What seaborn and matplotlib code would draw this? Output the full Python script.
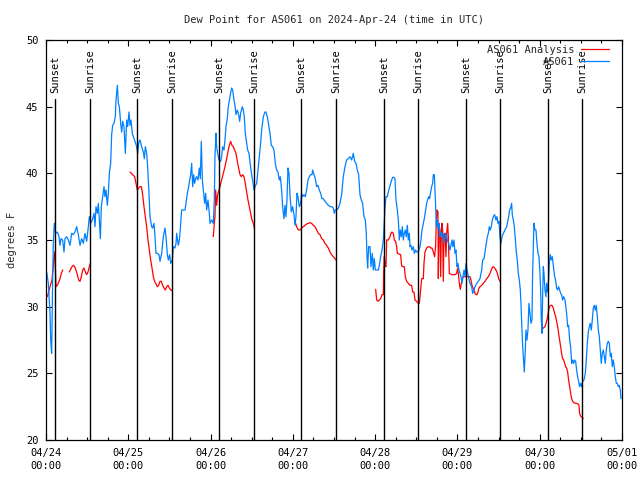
import numpy as np
import pandas as pd
import matplotlib
matplotlib.use("Agg")
import matplotlib.pyplot as plt
import matplotlib.transforms as mtransforms
from matplotlib.lines import Line2D
import seaborn as sns

# time axis: hours since 2024-04-24 00:00 UTC
obs_hours = [
    0.19, 0.68, 1.17, 1.36, 1.65, 1.94, 2.14, 2.43, 2.82, 3.31,
    3.79, 4.08, 4.38, 4.86, 5.25, 5.54, 6.03, 6.51, 7.0, 7.49,
    7.97, 8.46, 8.94, 9.43, 9.92, 10.40, 10.89, 11.37, 11.86, 12.35,
    12.64, 13.03, 13.51, 14.0, 14.29, 14.58, 14.97, 15.26, 15.56, 15.85,
    16.14, 16.53, 16.92, 17.21, 17.5, 17.89, 18.18, 18.47, 18.86, 19.15,
    19.44, 19.83, 20.22, 20.42, 20.81, 21.1, 21.39, 21.78, 22.07, 22.36,
    22.75, 23.14, 23.53, 23.82, 24.21, 24.5, 24.79, 25.18, 25.47, 25.96,
    26.44, 26.74, 27.12, 27.42, 27.9, 28.39, 28.68, 28.97, 29.36, 29.65,
    30.04, 30.33, 30.82, 31.11, 31.5, 31.79, 32.08, 32.47, 32.96, 33.25,
    33.74, 34.22, 34.71, 35.0, 35.39, 35.68, 36.07, 36.36, 36.85, 37.14,
    37.62, 37.92, 38.11, 38.6, 38.89, 39.08, 39.57, 40.05, 40.54, 40.83,
    41.22, 41.61, 41.9, 42.19, 42.49, 42.78, 43.07, 43.36, 43.65, 43.94,
    44.33, 44.72, 45.01, 45.3, 45.6, 45.89, 46.28, 46.57, 46.86, 47.25,
    47.64,
    47.83, 48.31, 48.8, 49.09, 49.28, 49.58, 49.77, 50.06, 50.45, 50.94,
    51.23, 51.52, 51.91, 52.2, 52.49, 52.88, 53.17, 53.66, 54.15, 54.44,
    54.83, 55.12, 55.41, 55.8, 56.19, 56.48, 56.77, 57.26, 57.55, 57.84,
    58.13, 58.52, 58.81, 59.2, 59.49, 59.78, 60.08, 60.27, 60.66, 60.95,
    61.44, 61.73, 62.12, 62.51, 62.9, 63.38, 63.87, 64.16, 64.55, 64.94,
    65.33, 65.72, 66.1, 66.49, 66.88, 67.27, 67.66, 68.05, 68.34, 68.73,
    69.02, 69.41, 69.7, 69.99, 70.28, 70.58, 70.87, 71.16, 71.55, 71.94,
    72.33, 72.62, 72.91, 73.2, 73.49, 73.88, 74.27, 74.56, 74.85, 75.24,
    75.63, 76.02, 76.41, 76.8, 77.19, 77.58, 77.77, 78.16, 78.55, 78.94,
    79.33, 79.71, 80.1, 80.49, 80.88, 81.37, 81.85, 82.34, 82.83, 83.31,
    83.8, 84.09, 84.38, 84.77, 85.26, 85.74, 86.23, 86.71, 87.2, 87.69,
    88.17, 88.66, 89.15, 89.63, 90.02, 90.41, 90.8, 91.19, 91.58, 91.96,
    92.35, 92.74, 93.13, 93.42, 93.62, 93.81, 94.1,
    94.5, 94.79, 95.18, 95.47, 95.76, 96.05, 96.44, 96.93, 97.22, 97.61,
    98.0, 98.39, 98.58, 98.87, 99.16, 99.55, 99.84, 100.14, 100.52, 100.82,
    101.11, 101.5, 101.79, 102.08, 102.47, 102.76, 103.05, 103.34, 103.64, 103.93,
    104.22, 104.51, 104.8, 105.09, 105.39, 105.68, 105.97, 106.16, 106.45, 106.75,
    107.14, 107.43, 107.82, 108.11, 108.59, 109.08, 109.37, 109.66, 110.05, 110.34,
    110.73, 111.02, 111.32, 111.61, 111.9, 112.19, 112.48, 112.77, 112.97, 113.26,
    113.45, 113.65, 113.84, 114.14, 114.43, 114.72, 114.91, 115.2, 115.5, 115.79,
    116.08, 116.37, 116.66, 117.05, 117.44, 117.83, 118.12, 118.41, 118.7, 119.0,
    119.29, 119.58, 119.87, 120.16, 120.45, 120.75, 121.04, 121.33, 121.62, 121.91,
    122.2, 122.5, 122.79, 123.18, 123.66, 124.15, 124.44, 124.83, 125.12, 125.61,
    126.09, 126.58, 127.07, 127.36, 127.75, 128.04, 128.33, 128.72, 129.01, 129.3,
    129.59, 129.89, 130.18, 130.47, 130.86, 131.25, 131.54, 131.83, 132.12, 132.41,
    132.71, 133.0, 133.39, 133.87, 134.36, 134.84, 135.23,
    135.52, 135.81, 136.0, 136.3, 136.59, 136.88, 137.17, 137.46, 137.75, 138.05,
    138.34, 138.53, 138.82, 139.02, 139.31, 139.5, 139.8, 139.99, 140.28, 140.57,
    140.86, 141.16, 141.45, 141.74, 141.93, 142.13, 142.32, 142.61, 142.91, 143.2,
    143.49, 143.78, 144.07, 144.27, 144.46, 144.66, 144.85, 145.05, 145.24, 145.53,
    145.82, 146.02, 146.31, 146.6, 146.8, 147.09, 147.38, 147.67, 147.96, 148.35,
    148.64, 148.93, 149.23, 149.52, 149.81, 150.1, 150.39, 150.68, 150.98, 151.37,
    151.85, 152.14, 152.43, 152.73, 153.02, 153.31, 153.6, 153.89, 154.18, 154.48,
    154.77, 155.06, 155.35, 155.64, 155.93, 156.23, 156.52, 156.91, 157.3, 157.59,
    157.88, 158.17, 158.46, 158.75, 159.05, 159.34, 159.63, 159.92, 160.21, 160.5,
    160.8, 161.09, 161.38, 161.67, 161.96, 162.25, 162.55, 162.84, 163.13, 163.42,
    163.71, 164.0, 164.3, 164.59, 164.88, 165.17, 165.46, 165.75, 166.05, 166.34,
    166.63, 166.92, 167.21, 167.5, 167.7,
]
obs_dewpt = [
    32.6, 31.75, 29.5, 27.5, 26.5, 32.0, 34.75, 36.25, 35.5, 35.6,
    35.25, 34.6, 35.1, 35.0, 34.1, 35.1, 35.25, 35.0, 34.6, 35.5,
    35.4, 35.6, 36.0, 35.4, 34.6, 35.1, 34.75, 35.5, 34.9, 36.0,
    36.75, 36.25, 36.5, 37.0, 36.0, 37.5, 37.0, 37.75, 36.5, 35.1,
    37.5, 38.25, 39.0, 38.25, 38.75, 37.6, 38.5, 40.0, 40.75, 42.9,
    43.6, 43.75, 44.25, 45.5, 46.6, 45.25, 45.0, 43.75, 43.1, 43.9,
    43.5, 41.5, 44.0, 43.5, 44.6, 43.6, 44.0, 43.0, 42.75, 42.4,
    42.0, 41.5, 42.4, 42.5, 42.0, 41.6, 41.1, 42.0, 41.5, 40.5,
    38.5, 36.75, 36.0, 35.9, 36.25, 35.25, 34.0, 34.0, 33.9, 33.4,
    34.0, 35.25, 35.9, 35.25, 33.9, 33.5, 33.9, 33.25, 33.5, 34.5,
    34.4, 34.75, 35.5, 34.6, 35.0, 35.5, 37.25, 37.25, 37.25, 37.75,
    38.5, 39.0, 39.5, 39.9, 40.75, 39.0, 39.9, 39.25, 39.6, 39.75,
    39.5, 40.4, 39.6, 42.4, 39.5, 38.75, 37.75, 38.5, 37.25, 38.0,
    37.0,
    36.25, 36.5, 36.25, 38.0, 41.25, 43.0, 42.0, 41.5, 41.0, 40.9,
    41.25, 42.0, 41.75, 42.5, 43.5, 44.1, 45.0, 45.75, 46.4, 46.25,
    45.5, 45.1, 44.4, 44.75, 44.4, 43.9, 44.5, 45.0, 44.75, 44.25,
    43.0, 42.25, 41.75, 41.5, 40.9, 40.25, 39.75, 39.5, 38.75, 39.0,
    39.25, 40.0, 41.0, 42.0, 43.25, 44.25, 44.6, 44.6, 44.25, 43.6,
    43.0, 42.1, 42.0, 41.75, 40.75, 40.25, 40.1, 39.5, 39.75, 38.75,
    37.5, 36.6, 37.6, 36.75, 38.0, 40.4, 40.0, 38.4, 37.1, 37.5,
    36.9, 36.1, 36.75, 38.5, 38.25, 37.5, 37.75, 38.5, 38.25, 38.4,
    38.25, 38.75, 39.5, 39.75, 39.9, 39.9, 40.25, 39.9, 39.6, 39.0,
    39.1, 38.75, 38.5, 38.1, 38.1, 37.9, 37.75, 37.6, 37.5, 37.5,
    37.4, 37.0, 37.25, 37.25, 37.4, 37.75, 38.4, 39.75, 40.5, 41.0,
    41.1, 41.25, 41.0, 41.5, 40.9, 40.75, 40.25, 39.9, 38.4, 38.0,
    37.75, 36.75, 36.5, 35.5, 33.75, 32.9, 34.5,
    34.5, 33.0, 34.0, 32.75, 33.6, 32.75, 32.75, 32.75, 33.1, 33.75,
    34.25, 35.0, 36.0, 37.4, 38.25, 38.25, 38.6, 38.9, 39.25, 39.5,
    39.7, 39.7, 39.6, 38.0, 37.25, 36.5, 35.0, 35.75, 35.25, 36.0,
    35.0, 35.5, 35.75, 35.25, 36.1, 35.0, 35.5, 34.5, 34.6, 34.25,
    34.5, 34.0, 34.25, 34.1, 34.1, 34.5, 35.0, 35.75, 36.25, 36.6,
    37.25, 37.75, 38.0, 38.25, 38.1, 38.6, 39.0, 39.25, 39.9, 39.9,
    38.75, 37.5, 36.0, 36.5, 35.75, 36.25, 35.25, 35.6, 35.25, 35.5,
    34.75, 35.25, 35.5, 35.0, 34.75, 34.25, 34.6, 35.0, 34.5, 35.0,
    34.0, 34.25, 33.0, 33.25, 32.75, 32.5, 32.25, 31.75, 32.25, 32.75,
    32.25, 33.25, 32.75, 32.25, 31.75, 31.5, 31.0, 31.25, 31.5, 31.75,
    31.9, 32.1, 32.75, 33.5, 33.6, 34.1, 34.6, 35.25, 35.5, 36.0,
    35.75, 36.0, 36.5, 36.75, 36.9, 36.5, 36.75, 36.25, 36.4, 35.25,
    34.75, 35.25, 35.5, 35.75, 36.0, 36.6, 37.25,
    37.4, 37.75, 36.9, 36.5, 36.0, 35.0, 34.1, 33.5, 32.5, 32.0,
    31.25, 30.25, 28.25, 27.1, 25.9, 25.1, 26.75, 28.25, 27.5, 28.25,
    30.25, 29.5, 28.75, 29.0, 32.5, 34.5, 36.25, 35.75, 35.75, 34.75,
    34.0, 33.75, 32.5, 31.25, 29.1, 28.0, 30.75, 33.0, 32.5, 31.25,
    30.75, 31.75, 31.1, 32.1, 33.25, 33.9, 33.5, 33.75, 33.1, 32.25,
    32.0, 31.4, 31.25, 31.5, 31.25, 31.0, 30.9, 30.5, 30.75, 30.5,
    29.5, 28.5, 28.6, 27.5, 27.0, 25.75, 26.0, 25.75, 26.0, 25.9,
    25.25, 24.75, 24.4, 24.0, 24.25, 24.0, 24.4, 24.5, 25.0, 26.0,
    27.25, 28.1, 28.5, 28.75, 28.25, 29.0, 29.9, 30.1, 29.75, 30.1,
    29.25, 28.25, 27.75, 26.75, 25.75, 26.5, 26.75, 26.25, 25.75, 26.75,
    27.25, 27.4, 27.25, 26.25, 26.5, 25.5, 26.0, 25.5, 24.75, 24.25,
    24.25, 24.0, 24.1, 23.75, 23.1,
]

# analysis series, None marks a gap in the record
ana_hours = [
    0.39, 0.68, 1.17, 1.46, 1.75, 1.94, 2.14, 2.33, 2.53, 2.72,
    2.92, 3.31, 3.79, 4.08, 4.47, 4.86, None,
    6.81, 7.19, 7.58, 7.97, 8.36, 8.75, 9.14, 9.53, 9.92, 10.31,
    10.69, 11.08, 11.47, 11.86, 12.25, 12.64, 12.93, None,
    24.5, 25.28, 25.86, 26.25, 26.64, 27.03, 27.42, 27.81, 28.19, 28.58,
    28.97, 29.36, 29.75, 30.14, 30.53, 30.92, 31.31, 31.69, 32.08, 32.47,
    32.86, 33.25, 33.64, 34.03, 34.42, 34.81, 35.19, 35.58, 35.97, 36.36,
    36.75, None,
    48.8, 49.09, 49.28, 49.48, 49.77, 50.06, 50.45, 50.74, 51.23, 51.72,
    52.2, 52.69, 53.17, 53.47, 53.85, 54.24, 54.63, 55.02, 55.41, 55.8,
    56.19, 56.58, 56.97, 57.35, 57.74, 58.13, 58.52, 58.91, 59.3, 59.69,
    60.08, 60.47, 60.76, None,
    72.62, 73.1, 73.59, 74.08, 74.56, 75.05, 75.53, 76.02, 76.51, 76.99,
    77.48, 77.96, 78.45, 78.94, 79.42, 79.91, 80.4, 80.88, 81.37, 81.85,
    82.34, 82.83, 83.31, 83.8, 84.28, 84.58, None,
    96.15, 96.44, 96.83, 97.22, 97.61, 98.0, 98.39, 98.48, 98.68, 98.87,
    99.16, 99.36, 99.84, 100.33, 100.62, 100.91, 101.3, 101.59, 101.98, 102.27,
    102.47, 102.95, 103.44, 103.73, 104.22, 104.51, 104.8, 105.19, 105.68, 106.16,
    106.65, 106.94, 107.33, 107.62, 108.11, 108.59, 108.89, 109.18, 109.57, 110.05,
    110.25, 110.54, 111.02, 111.51, 111.8, 112.19, 112.58, 112.97, 113.36, 113.65,
    113.84, 114.04, 114.33, 114.43, 114.62, 114.91, 115.11, 115.3, 115.5, 115.69,
    115.88, 116.08, 116.37, 116.66, 116.86, 117.15, 117.34, 117.64, 118.32, 118.8,
    119.29, 119.78, 120.07, 120.36, 120.55, 120.84, 121.14, 121.43, 121.72, 122.2,
    122.69, 123.18, 123.66, 123.95, 124.25, 124.54, 124.83, 125.12, 125.41, 125.7,
    126.0, 126.29, 126.58, 127.07, 127.55, 128.04, 128.52, 129.01, 129.3, 129.59,
    129.89, 130.18, 130.47, 130.86, 131.25, 131.64, 132.03, 132.41, None,
    144.56, 145.05, 145.53, 145.82, 146.11, 146.41, 146.6, 146.89, 147.18, 147.57,
    147.96, 148.35, 148.64, 148.93, 149.23, 149.52, 149.81, 150.1, 150.39, 150.68,
    150.98, 151.27, 151.56, 151.85, 152.14, 152.43, 152.73, 153.02, 153.31, 153.6,
    153.99, 154.38, 154.77, 155.16, 155.45, 155.64, 155.93, 156.32, 156.71,
]
ana_dewpt = [
    30.75, 31.0, 31.5, 31.75, 32.0, 32.6, 33.0, 33.75, 34.1, 33.0,
    31.5, 31.6, 31.9, 32.1, 32.5, 32.75, None,
    32.6, 32.8, 33.0, 33.1, 33.0, 32.75, 32.4, 32.0, 31.9, 32.25,
    32.75, 32.9, 32.6, 32.4, 32.6, 33.0, 33.25, None,
    40.1, 39.9, 39.75, 39.25, 38.75, 38.9, 39.0, 39.0, 38.4, 37.5,
    36.75, 36.0, 35.0, 34.25, 33.5, 32.9, 32.25, 31.9, 31.7, 31.5,
    31.6, 31.9, 31.9, 31.6, 31.4, 31.25, 31.5, 31.6, 31.4, 31.25,
    31.2, None,
    35.25, 36.25, 36.75, 38.75, 37.6, 38.4, 38.75, 39.0, 39.5, 40.0,
    40.5, 41.1, 41.75, 42.1, 42.4, 42.1, 42.0, 41.75, 41.5, 40.9,
    40.4, 39.9, 39.75, 39.9, 39.75, 39.25, 38.6, 38.0, 37.5, 37.0,
    36.5, 36.25, 35.9, None,
    36.4, 36.0, 35.75, 35.75, 35.9, 36.0, 36.1, 36.2, 36.25, 36.3,
    36.25, 36.1, 36.0, 35.75, 35.5, 35.4, 35.1, 35.0, 34.75, 34.6,
    34.4, 34.1, 33.9, 33.75, 33.6, 33.5, None,
    31.3, 30.5, 30.4, 30.5, 30.6, 30.9, 30.9, 32.5, 33.75, 33.1,
    33.0, 35.0, 35.0, 35.25, 35.5, 35.6, 35.5, 35.0, 34.9, 34.5,
    34.0, 33.95, 33.9, 33.05, 33.0, 33.0, 32.25, 31.9, 31.75, 31.6,
    31.6, 31.1, 31.1, 30.5, 30.4, 30.25, 30.25, 31.0, 32.1, 32.1,
    33.25, 34.1, 34.4, 34.5, 34.5, 34.4, 34.4, 34.1, 33.75, 34.6,
    36.4, 37.25, 37.1, 32.1, 36.1, 35.75, 32.25, 35.4, 36.25, 35.75,
    31.9, 35.4, 35.5, 33.75, 35.5, 36.25, 35.25, 32.5, 32.4, 32.4,
    32.4, 32.5, 32.9, 32.25, 31.75, 31.3, 31.75, 32.1, 32.25, 32.25,
    32.25, 32.25, 32.25, 32.0, 31.6, 31.4, 31.25, 31.0, 30.9, 30.9,
    31.1, 31.4, 31.5, 31.6, 31.75, 31.9, 32.1, 32.25, 32.4, 32.55,
    32.75, 32.95, 33.0, 32.9, 32.75, 32.5, 32.1, 31.9, None,
    28.25, 28.4, 28.5, 28.75, 29.0, 29.4, 29.75, 30.0, 30.1, 30.1,
    29.9, 29.5, 29.25, 28.9, 28.5, 28.0, 27.5, 27.0, 26.5, 26.1,
    26.0, 25.75, 25.5, 25.4, 25.1, 24.5, 24.0, 23.5, 23.1, 22.9,
    22.8, 22.75, 22.75, 22.7, 22.6, 22.0, 21.8, 21.7, 21.6,
]

sunset_hours = [2.71, 26.63, 50.54, 74.46, 98.67, 122.58, 146.5]
sunrise_hours = [12.92, 36.84, 60.75, 84.67, 108.58, 132.5, 156.4]

day_ticks = [0, 24, 48, 72, 96, 120, 144, 168]
day_labels = ["04/24\n00:00", "04/25\n00:00", "04/26\n00:00", "04/27\n00:00",
              "04/28\n00:00", "04/29\n00:00", "04/30\n00:00", "05/01\n00:00"]
dewpt_ticks = [20, 25, 30, 35, 40, 45, 50]

sns.set_theme(style="ticks")
plt.rcParams['font.family'] = ['DejaVu Sans Mono', 'DejaVu Sans']
plt.rcParams['font.size'] = 7.5
plt.rcParams['axes.linewidth'] = 0.9

obs = pd.DataFrame({"hours": obs_hours, "dewpt": obs_dewpt})
ana = pd.DataFrame({"hours": ana_hours, "dewpt": ana_dewpt}, dtype=float)
ana["seg"] = ana["hours"].isna().cumsum()
ana = ana.dropna()

fig = plt.figure(figsize=(6.4, 4.8), dpi=100)
ax = fig.add_axes([46 / 640, 40 / 480, 576 / 640, 400 / 480])

red = "#ff0000"
blue = "#0080ff"
sns.lineplot(data=ana, x="hours", y="dewpt", units="seg", estimator=None,
             color=red, linewidth=0.9, legend=False, ax=ax)
sns.lineplot(data=obs, x="hours", y="dewpt", estimator=None,
             color=blue, linewidth=0.9, legend=False, ax=ax)

# sunset / sunrise markers
trans = mtransforms.blended_transform_factory(ax.transData, ax.transAxes)
for name, hours in (("Sunset", sunset_hours), ("Sunrise", sunrise_hours)):
    for h in hours:
        ax.axvline(h, ymin=0, ymax=0.8525, color="black", linewidth=1.0)
        ax.text(h, 0.868, name, transform=trans, rotation=90,
                ha="center", va="bottom", fontsize=7.5, color="black")

ax.set_xlim(day_ticks[0], day_ticks[-1])
ax.set_ylim(dewpt_ticks[0], dewpt_ticks[-1])
ax.set_xticks(day_ticks)
ax.set_xticklabels(day_labels, linespacing=1.45)
ax.set_xticks(np.arange(0, 169, 6), minor=True)
ax.set_yticks(dewpt_ticks)
ax.tick_params(which="both", direction="in", top=True, right=True,
               colors="black", labelsize=7.5)
ax.tick_params(which="major", length=4.5, width=0.8, pad=5.5)
ax.tick_params(which="minor", length=2.5, width=0.8)
for s in ax.spines.values():
    s.set_color("black")

ax.set_xlabel("")
ax.set_ylabel("degrees F", fontsize=7.5)
ax.yaxis.set_label_coords(-0.05, 0.5)
ax.set_title("Dew Point for AS061 on 2024-Apr-24 (time in UTC)",
             fontsize=7.5, pad=12)

handles = [Line2D([], [], color=red, linewidth=0.9, label="AS061 Analysis"),
           Line2D([], [], color=blue, linewidth=0.9, label="AS061")]
ax.legend(handles=handles, loc="upper right", bbox_to_anchor=(0.977, 0.9875),
          frameon=False, markerfirst=False, fontsize=7.5, handlelength=2.7,
          handletextpad=0.6, labelspacing=0.15, borderpad=0, borderaxespad=0)

fig.savefig("out.png", dpi=100)
